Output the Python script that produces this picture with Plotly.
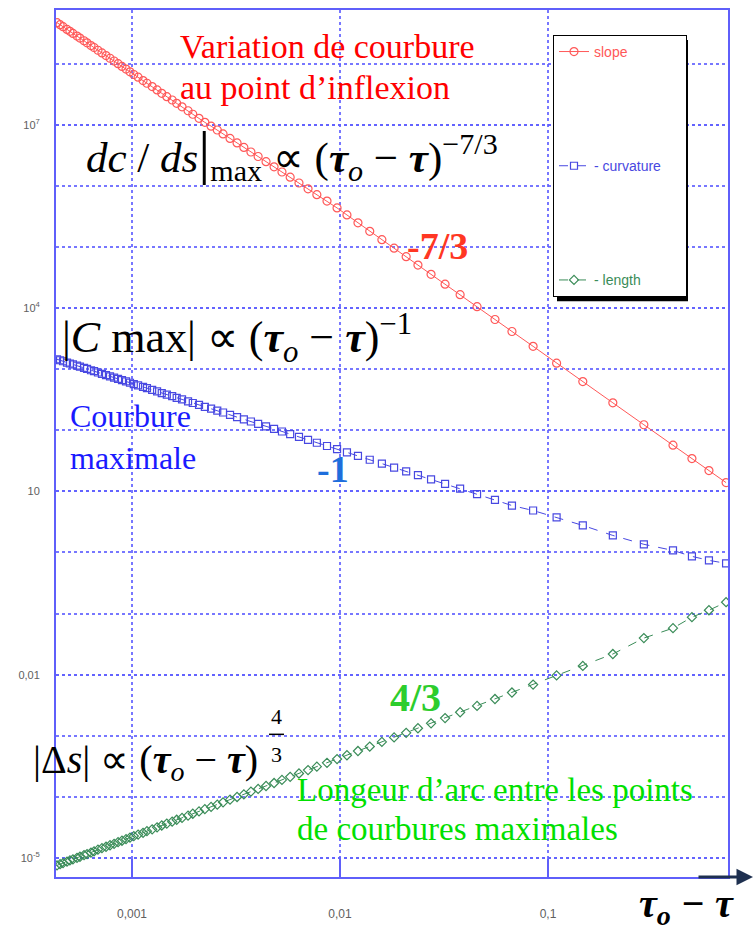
import plotly.graph_objects as go

# tau_o - tau sampling (shared by the three measured quantities)
tau_gap = [
    0.000436, 0.000451, 0.000466, 0.000487, 0.000503, 0.000520, 0.000544, 0.000562,
    0.000588, 0.000608, 0.000635, 0.000657, 0.000686, 0.000717, 0.000750, 0.000784,
    0.000820, 0.000857, 0.000895, 0.000936, 0.000978, 0.00102, 0.00107, 0.00113,
    0.00118, 0.00125, 0.00132, 0.00139, 0.00147, 0.00156, 0.00164, 0.00174,
    0.00186, 0.00196, 0.00210, 0.00224, 0.00240, 0.00257, 0.00274, 0.00296,
    0.00320, 0.00345, 0.00373, 0.00404, 0.00441, 0.00482, 0.00526, 0.00576,
    0.00635, 0.00702, 0.00774, 0.00866, 0.00968, 0.0108, 0.0122, 0.0139,
    0.0159, 0.0182, 0.0208, 0.0237, 0.0274, 0.0320, 0.0378, 0.0456,
    0.0556, 0.0671, 0.0848, 0.110, 0.147, 0.205, 0.289, 0.399,
    0.492, 0.594, 0.718,
]

# dc/ds at the inflexion point
slope = [
    4.67e8, 4.32e8, 4.01e8, 3.62e8, 3.36e8, 3.11e8, 2.81e8, 2.61e8,
    2.36e8, 2.18e8, 1.97e8, 1.83e8, 1.65e8, 1.49e8, 1.35e8, 1.22e8,
    1.10e8, 9.93e7, 8.97e7, 8.11e7, 7.33e7, 6.62e7, 5.98e7, 5.27e7,
    4.76e7, 4.20e7, 3.70e7, 3.26e7, 2.87e7, 2.53e7, 2.23e7, 1.96e7,
    1.69e7, 1.48e7, 1.27e7, 1.09e7, 9.46e6, 8.17e6, 7.06e6, 5.96e6,
    5.02e6, 4.24e6, 3.57e6, 3.01e6, 2.48e6, 2.04e6, 1.68e6, 1.38e6,
    1.11e6, 8.91e5, 7.16e5, 5.61e5, 4.34e5, 3.33e5, 2.48e5, 1.80e5,
    1.31e5, 9.53e4, 6.92e4, 5.04e4, 3.56e4, 2.45e4, 1.65e4, 1.05e4,
    6.49e3, 4.13e3, 2.36e3, 1.25e3, 625, 281, 123, 57.0,
    34.4, 21.9, 13.9,
]

# maximal curvature |C max|
curvature = [
    1449, 1396, 1346, 1282, 1236, 1194, 1138, 1096,
    1045, 1007, 959, 925, 881, 839, 800, 762,
    726, 692, 659, 628, 598, 570, 543, 512,
    488, 459, 432, 406, 383, 361, 339, 319,
    297, 279, 260, 242, 225, 209, 195, 179,
    164, 151, 139, 127, 116, 105, 95.3, 86.5,
    77.6, 69.5, 62.4, 55.2, 49.0, 43.4, 38.0, 32.9,
    28.4, 24.5, 21.2, 18.4, 15.7, 13.3, 11.1, 8.99,
    7.24, 5.86, 4.86, 3.74, 2.77, 1.90, 1.36, 1.08,
    0.863, 0.743, 0.664,
]

# arc length between the curvature maxima |Delta s|
length = [
    7.59e-6, 7.93e-6, 8.26e-6, 8.75e-6, 9.14e-6, 9.53e-6, 1.01e-5, 1.05e-5,
    1.12e-5, 1.16e-5, 1.23e-5, 1.29e-5, 1.37e-5, 1.45e-5, 1.53e-5, 1.62e-5,
    1.71e-5, 1.82e-5, 1.92e-5, 2.04e-5, 2.16e-5, 2.29e-5, 2.42e-5, 2.59e-5,
    2.75e-5, 2.95e-5, 3.18e-5, 3.41e-5, 3.66e-5, 3.94e-5, 4.23e-5, 4.54e-5,
    4.94e-5, 5.31e-5, 5.79e-5, 6.31e-5, 6.87e-5, 7.48e-5, 8.17e-5, 9.02e-5,
    9.98e-5, 1.10e-4, 1.22e-4, 1.35e-4, 1.51e-4, 1.69e-4, 1.90e-4, 2.13e-4,
    2.42e-4, 2.75e-4, 3.13e-4, 3.61e-4, 4.17e-4, 4.81e-4, 5.64e-4, 6.68e-4,
    7.94e-4, 9.42e-4, 1.12e-3, 1.33e-3, 1.60e-3, 1.95e-3, 2.43e-3, 3.09e-3,
    4.00e-3, 5.11e-3, 6.89e-3, 9.73e-3, 1.39e-2, 2.18e-2, 3.97e-2, 5.78e-2,
    8.73e-2, 0.1135, 0.1535,
]

x_tickvals = [0.001, 0.01, 0.1]
x_ticktext = ["0,001", "0,01", "0,1"]
y_tickvals = [1e-5, 1e-2, 10, 1e4, 1e7]
y_ticktext = ["10<sup>-5</sup>", "0,01", "10", "10<sup>4</sup>", "10<sup>7</sup>"]
y_decades = [1e-5, 1e-4, 1e-3, 1e-2, 1e-1, 1, 10, 100, 1e3, 1e4, 1e5, 1e6, 1e7, 1e8]

RED = "rgb(255,88,88)"
BLUE = "rgb(72,72,225)"
GREEN = "rgb(58,140,88)"
GRID = "rgba(95,95,255,0.85)"
FRAME = "rgb(95,95,250)"
SERIF = "Liberation Serif"
SANS = "Liberation Sans"
PAD = "\u00a0" * 5  # widens the legend box a little

fig = go.Figure()
fig.add_trace(go.Scatter(
    x=tau_gap, y=slope, mode="lines+markers", legendgroup="g1",
    name="<span style='color:rgb(255,88,88)'>slope</span>",
    line=dict(color=RED, width=1),
    marker=dict(symbol="circle-open", size=8, color=RED, line=dict(width=1.2)),
))
fig.add_trace(go.Scatter(
    x=tau_gap, y=curvature, mode="lines+markers", legendgroup="g2",
    name="<span style='color:rgb(72,72,225)'>- curvature</span>" + PAD,
    line=dict(color=BLUE, width=1, dash="dash"),
    marker=dict(symbol="square-open", size=7, color=BLUE, line=dict(width=1.2)),
))
fig.add_trace(go.Scatter(
    x=tau_gap, y=length, mode="lines+markers", legendgroup="g3",
    name="<span style='color:rgb(58,140,88)'>- length</span>",
    line=dict(color=GREEN, width=1, dash="dash"),
    marker=dict(symbol="diamond-open", size=7, color=GREEN, line=dict(width=1.2)),
))


def px_x(px):
    return (px - 56) / 672


def px_y(py):
    return (877 - py) / 869


def note(text, px, py, size, color="black", xanchor="left", **kw):
    fig.add_annotation(
        x=px_x(px), y=px_y(py), xref="paper", yref="paper", text=text,
        showarrow=False, xanchor=xanchor, yanchor="middle",
        font=dict(family=SERIF, size=size, color=color), **kw,
    )


TAU = "<b><i>τ</i></b>"

note("Variation de courbure", 178, 45, 34, "#ff0000")
note("au point d’inflexion", 178, 86, 34, "#ff0000")
note("<i>dc</i> / <i>ds</i><span style='font-size:60px'>|</span><sub>max</sub> ∝ ("
     + TAU + "<sub><i>o</i></sub> − " + TAU + ")<sup>−7/3</sup>", 84, 152, 43)
note("<b>-7/3</b>", 437, 245, 38, "rgb(255,55,35)", xanchor="center")

note("|<i>C</i> max| ∝ (" + TAU + "<sub><i>o</i></sub> − " + TAU + ")<sup>−1</sup>",
     60, 337, 44)
note("Courbure", 68, 415, 32, "#1a1aff")
note("maximale", 68, 457, 32, "#1a1aff")
note("<b>-1</b>", 333, 468, 38, "rgb(30,110,220)", xanchor="center")

note("<b>4/3</b>", 415, 697, 40, "rgb(45,205,45)", xanchor="center")
note("|Δ<i>s</i>| ∝ (" + TAU + "<sub><i>o</i></sub> − " + TAU + ")", 31, 762, 40)
note("4", 276, 716, 22, xanchor="center")
note("3", 276, 754, 22, xanchor="center")
fig.add_shape(type="line", xref="paper", yref="paper",
              x0=px_x(269), x1=px_x(284), y0=px_y(734), y1=px_y(734),
              line=dict(color="black", width=1.5))
note("Longeur d’arc entre les points", 295, 790, 33, "#00e000")
note("de courbures maximales", 295, 829, 33, "#00e000")

# legend drop shadow
fig.add_shape(type="rect", xref="paper", yref="paper", layer="above",
              x0=px_x(557), x1=px_x(688), y0=px_y(300), y1=px_y(38),
              fillcolor="black", line=dict(width=0))

# axis arrow and label
fig.add_annotation(
    x=px_x(753), y=0, xref="paper", yref="paper", text="", showarrow=True,
    ax=-56, ay=0, arrowhead=2, arrowsize=1.1, arrowwidth=3,
    arrowcolor="rgb(30,48,80)",
)
note("<b><i>τ<sub>o</sub> − τ</i></b>", 686, 906, 40, xanchor="center")

fig.update_layout(
    width=754, height=935,
    margin=dict(l=56, r=26, t=8, b=58),
    paper_bgcolor="white", plot_bgcolor="white",
    showlegend=True,
    legend=dict(
        x=px_x(553), y=px_y(33), xanchor="left", yanchor="top",
        bgcolor="white", bordercolor="black", borderwidth=1,
        tracegroupgap=93, font=dict(family=SANS, size=14),
    ),
    xaxis=dict(
        type="log", range=[-3.3654, -0.1346],
        tickvals=x_tickvals, ticktext=x_ticktext,
        showgrid=True, gridcolor=GRID, griddash="dot", gridwidth=1.5,
        showline=True, mirror=True, linecolor=FRAME, linewidth=2,
        ticks="inside", ticklen=18, tickwidth=2, tickcolor=FRAME,
        ticklabelstandoff=25,
        tickfont=dict(family=SANS, size=12, color="#606060"),
        zeroline=False,
    ),
    yaxis=dict(
        type="log", range=[-5.31, 8.876],
        tickvals=y_tickvals, ticktext=y_ticktext,
        showgrid=True, gridcolor=GRID, griddash="dot", gridwidth=1.5,
        minor=dict(tickmode="array", tickvals=y_decades, showgrid=True,
                   gridcolor=GRID, griddash="dot", gridwidth=1.5),
        showline=True, mirror=True, linecolor=FRAME, linewidth=2,
        ticks="", ticklabelstandoff=12,
        tickfont=dict(family=SANS, size=11, color="#606060"),
        zeroline=False,
    ),
)

fig.write_html("out.html")
